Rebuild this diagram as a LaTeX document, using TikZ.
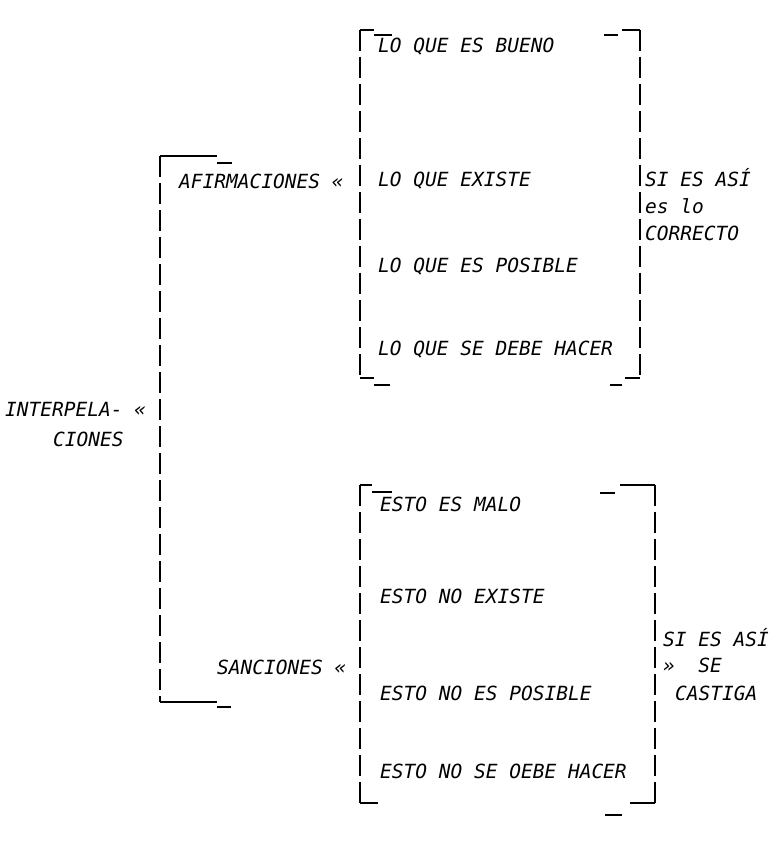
\documentclass[tikz,border=0pt]{standalone}
\usepackage{fontspec}
\newfontfamily\twfont{DejaVu Sans Mono}
\usetikzlibrary{positioning}

\begin{document}
\begin{tikzpicture}[x=1pt,y=-1pt,tw/.style={font=\twfont\fontsize{19.5pt}{19.5pt}\selectfont\itshape,anchor=west,inner sep=0pt,text height=13.5pt,text depth=0pt},rim/.style={line width=1.1pt},bar/.style={line width=1.1pt,dash pattern=on 21pt off 6pt}]
 \useasboundingbox (0,0) rectangle (776,866);
 % corners of the three brackets
 \coordinate (int-nw) at (160,156); \coordinate (int-sw) at (160,702);
 \coordinate (afi-nw) at (360,30); \coordinate (afi-sw) at (360,378);
 \coordinate (afi-ne) at (640,30); \coordinate (afi-se) at (640,378);
 \coordinate (san-nw) at (360,485); \coordinate (san-sw) at (360,803);
 \coordinate (san-ne) at (655,485); \coordinate (san-se) at (655,803);
 % interpelaciones
 \draw[bar] (int-nw)--(int-sw);
 \draw[rim] (int-nw)--++(57,0) ++(0,7)--++(15,0);
 \draw[rim] (int-sw)--++(57,0) ++(0,5)--++(14,0);
 % afirmaciones
 \draw[bar] (afi-nw)--(afi-sw); \draw[bar] (afi-ne)--(afi-se);
 \draw[rim] (afi-nw)--++(14,0) ++(0,5)--++(18,0);
 \draw[rim] (afi-sw)--++(14,0) ++(0,7)--++(16,0);
 \draw[rim] (afi-ne)--++(-18,0) ++(-4,5)--++(-14,0);
 \draw[rim] (afi-se)--++(-15,0) ++(-3,7)--++(-12,0);
 % sanciones
 \draw[bar] (san-nw)--(san-sw); \draw[bar] (san-ne)--(san-se);
 \draw[rim] (san-nw)--++(12,0) ++(0,7)--++(20,0);
 \draw[rim] (san-sw)--++(18,0);
 \draw[rim] (san-ne)--++(-35,0) ++(-5,8)--++(-15,0);
 \draw[rim] (san-se)--++(-25,0) ++(-8,12)--++(-17,0);
 % labels
 \node[tw] (interpela) at (5,410) {INTERPELA- «};
 \node[tw] (ciones) at (53,440) {CIONES};
 \node[tw] (afirm) at (179,182) {AFIRMACIONES «};
 \node[tw] (sanc) at (217,668) {SANCIONES «};
 \foreach \t/\y [count=\i] in {LO QUE ES BUENO/46,LO QUE EXISTE/180,LO QUE ES POSIBLE/266,LO QUE SE DEBE HACER/349}
  \node[tw] (afi\i) at (378,\y) {\t};
 \foreach \t/\y [count=\i] in {ESTO ES MALO/505,ESTO NO EXISTE/597,ESTO NO ES POSIBLE/694,ESTO NO SE OEBE HACER/772}
  \node[tw] (san\i) at (380,\y) {\t};
 \node[tw] (siasi) at (645,180) {SI ES ASÍ};
 \node[tw] (eslo) at (645,207) {es lo};
 \node[tw] (correcto) at (645,234) {CORRECTO};
 \node[tw] (siasi2) at (663,640) {SI ES ASÍ};
 \node[tw] (se) at (663,666) {»~~SE};
 \node[tw] (castiga) at (675,694) {CASTIGA};
\end{tikzpicture}
\end{document}
